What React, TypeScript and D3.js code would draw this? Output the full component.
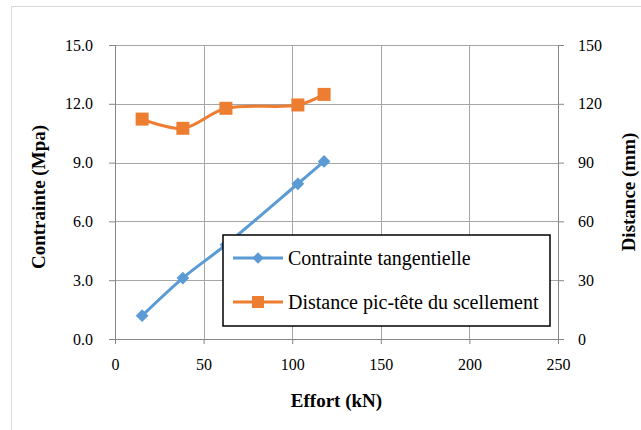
import React, { useRef, useEffect } from 'react';
import * as d3 from 'd3';

const effort = [15.3, 38.3, 62.6, 103.2, 118];
const contrainte = [1.19, 3.11, 4.81, 7.92, 9.06];
const distance = [112.2, 107.5, 117.7, 119.4, 124.8];
const xTicks = [0, 50, 100, 150, 200, 250];
const yLeftTicks = [0, 3, 6, 9, 12, 15];
const yRightTicks = [0, 30, 60, 90, 120, 150];
const serieNames = ['Contrainte tangentielle', 'Distance pic-tête du scellement'];

const BLUE = '#5b9bd5';
const ORANGE = '#ed7d31';
const FONT = '"Liberation Serif", "DejaVu Serif", serif';

const App: React.FC = () => {
  const svgRef = useRef<SVGSVGElement>(null);

  useEffect(() => {
    if (!svgRef.current) return;
    const W = 641, H = 430;
    const margin = { top: 45, right: 83, bottom: 91, left: 115 };
    const width = W - margin.left - margin.right;
    const height = H - margin.top - margin.bottom;

    const root = d3.select(svgRef.current);
    root.selectAll('*').remove();
    root.attr('width', W).attr('height', H);

    // cadre extérieur
    root.append('rect')
      .attr('x', 11.5).attr('y', 6.5)
      .attr('width', 700).attr('height', 500)
      .attr('fill', 'white').attr('stroke', '#d9d9d9');

    const svg = root.append('g')
      .attr('transform', `translate(${margin.left},${margin.top})`);

    const x = d3.scaleLinear().domain([0, 250]).range([0, width]);
    const yL = d3.scaleLinear().domain([0, 15]).range([height, 0]);
    const yR = d3.scaleLinear().domain([0, 150]).range([height, 0]);

    // grille
    svg.append('g').selectAll('line.h').data(yLeftTicks.slice(1)).enter().append('line')
      .attr('x1', 0).attr('x2', width)
      .attr('y1', d => Math.round(yL(d)) + 0.5).attr('y2', d => Math.round(yL(d)) + 0.5)
      .attr('stroke', '#a6a6a6');
    svg.append('g').selectAll('line.v').data(xTicks.slice(1)).enter().append('line')
      .attr('y1', 0).attr('y2', height)
      .attr('x1', d => Math.round(x(d)) + 0.5).attr('x2', d => Math.round(x(d)) + 0.5)
      .attr('stroke', '#a6a6a6');

    const styleAxis = (g: d3.Selection<SVGGElement, unknown, null, undefined>) => {
      g.selectAll('path,line').attr('stroke', '#868686');
      g.selectAll('text').attr('fill', '#000').style('font-family', FONT).style('font-size', '16px');
    };

    // axes
    const gx = svg.append('g').attr('transform', `translate(0,${height})`)
      .call(d3.axisBottom(x).tickValues(xTicks).tickSize(5).tickSizeOuter(0).tickPadding(15).tickFormat(d3.format('d')));
    styleAxis(gx);
    const gl = svg.append('g')
      .call(d3.axisLeft(yL).tickValues(yLeftTicks).tickSize(6).tickSizeOuter(0).tickPadding(16).tickFormat(d3.format('.1f')));
    styleAxis(gl);
    const gr = svg.append('g').attr('transform', `translate(${width},0)`)
      .call(d3.axisRight(yR).tickValues(yRightTicks).tickSize(6).tickSizeOuter(0).tickPadding(14).tickFormat(d3.format('d')));
    styleAxis(gr);
    gl.select('.domain').remove();
    gr.select('.domain').remove();
    svg.append('line').attr('x1', 0.5).attr('x2', 0.5).attr('y1', 0).attr('y2', height).attr('stroke', '#868686');
    svg.append('line').attr('x1', width + 0.5).attr('x2', width + 0.5).attr('y1', 0).attr('y2', height).attr('stroke', '#868686');

    // séries
    const line = d3.line<[number, number]>().curve(d3.curveCatmullRom.alpha(0.5));
    const ptsC: [number, number][] = effort.map((e, i) => [x(e), yL(contrainte[i])]);
    const ptsD: [number, number][] = effort.map((e, i) => [x(e), yR(distance[i])]);

    svg.append('path').attr('d', line(ptsC)!).attr('fill', 'none')
      .attr('stroke', BLUE).attr('stroke-width', 3).attr('stroke-linejoin', 'round');
    svg.selectAll('.diamond').data(ptsC).enter().append('path')
      .attr('class', 'diamond')
      .attr('transform', d => `translate(${d[0]},${d[1]}) rotate(45)`)
      .attr('d', 'M-4.5,-4.5H4.5V4.5H-4.5Z')
      .attr('fill', BLUE);

    svg.append('path').attr('d', line(ptsD)!).attr('fill', 'none')
      .attr('stroke', ORANGE).attr('stroke-width', 3).attr('stroke-linejoin', 'round');
    svg.selectAll('.square').data(ptsD).enter().append('rect')
      .attr('class', 'square')
      .attr('x', d => d[0] - 6.5).attr('y', d => d[1] - 6.5)
      .attr('width', 13).attr('height', 13)
      .attr('fill', ORANGE);

    // titres d'axes
    root.append('text')
      .attr('transform', `translate(45,197) rotate(-90)`)
      .attr('text-anchor', 'middle')
      .style('font-family', FONT).style('font-size', '19px').style('font-weight', 'bold')
      .text('Contrainte (Mpa)');
    root.append('text')
      .attr('transform', `translate(635,192) rotate(-90)`)
      .attr('text-anchor', 'middle')
      .style('font-family', FONT).style('font-size', '19px').style('font-weight', 'bold')
      .text('Distance (mm)');
    root.append('text')
      .attr('x', margin.left + width / 2).attr('y', 407)
      .attr('text-anchor', 'middle')
      .style('font-family', FONT).style('font-size', '19px').style('font-weight', 'bold')
      .text('Effort (kN)');

    // légende
    const lg = root.append('g').attr('transform', 'translate(223,235)');
    lg.append('rect').attr('width', 327).attr('height', 91)
      .attr('fill', 'white').attr('stroke', '#000').attr('stroke-width', 1.5);
    const rows = [
      { y: 23, color: BLUE, shape: 'diamond' },
      { y: 67, color: ORANGE, shape: 'square' },
    ];
    rows.forEach((r, i) => {
      lg.append('line').attr('x1', 10).attr('x2', 60).attr('y1', r.y).attr('y2', r.y)
        .attr('stroke', r.color).attr('stroke-width', 3);
      if (r.shape === 'diamond') {
        lg.append('path').attr('transform', `translate(35,${r.y}) rotate(45)`)
          .attr('d', 'M-4,-4H4V4H-4Z').attr('fill', r.color);
      } else {
        lg.append('rect').attr('x', 29).attr('y', r.y - 6).attr('width', 12).attr('height', 12)
          .attr('fill', r.color);
      }
      lg.append('text').attr('x', 65).attr('y', r.y + 6.5)
        .style('font-family', FONT).style('font-size', '20px')
        .text(serieNames[i]);
    });
  }, []);

  return <svg ref={svgRef} style={{ position: 'absolute', left: 0, top: 0 }} />;
};

export default App;
